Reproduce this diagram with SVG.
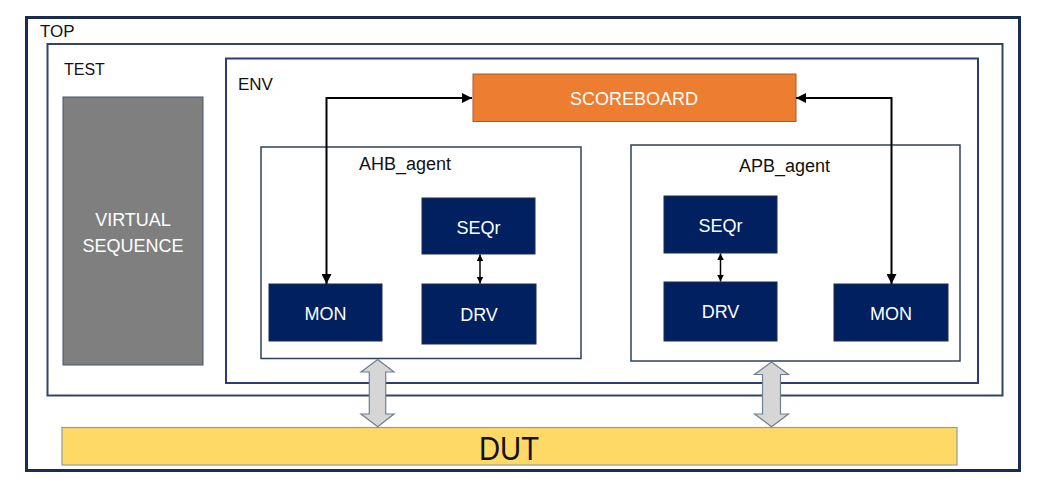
<svg xmlns="http://www.w3.org/2000/svg" width="1046" height="487" viewBox="0 0 1046 487">
<style>
.lbl{font-family:"Liberation Sans",Arial,sans-serif;fill:#111;}
.wt{font-family:"Liberation Sans",Arial,sans-serif;fill:#fff;text-anchor:middle;font-size:18px;}
.node{fill:#002060;stroke:#1a2a50;stroke-width:1;}
.cont{fill:none;}
.conn{fill:none;stroke:#000;stroke-width:2;}
.small{fill:none;stroke:#000;stroke-width:1.5;}
.blk{fill:#d6d6d6;stroke:#6f7f8f;stroke-width:1.2;}
</style>
<defs>
<marker id="ah" viewBox="0 0 10 10" refX="10" refY="5" markerWidth="5" markerHeight="5" orient="auto-start-reverse">
<path d="M0,0 L10,5 L0,10 z" fill="#000"/>
</marker>
<marker id="ahs" viewBox="0 0 10 10" refX="10" refY="5" markerWidth="4.5" markerHeight="4.5" orient="auto-start-reverse">
<path d="M0,0 L10,5 L0,10 z" fill="#000"/>
</marker>
</defs>
<rect width="1046" height="487" fill="#fff"/>

<g id="top">
<rect class="cont" x="26.5" y="17.5" width="993" height="453" stroke="#1a2c50" stroke-width="3"/>
<text class="lbl" x="40" y="37" font-size="17">TOP</text>
</g>
<g id="test">
<rect class="cont" x="47.5" y="44" width="955" height="351.5" stroke="#34455f" stroke-width="2"/>
<text class="lbl" x="64" y="75" font-size="16">TEST</text>
</g>
<g id="virtual_sequence">
<rect x="63" y="97" width="140" height="268" fill="#7f7f7f" stroke="#44546a" stroke-width="1"/>
<text class="wt" x="133" y="226" font-size="17">VIRTUAL</text>
<text class="wt" x="133" y="252" font-size="17">SEQUENCE</text>
</g>
<g id="env">
<rect class="cont" x="226" y="58.5" width="752" height="324.5" stroke="#2e3c70" stroke-width="2"/>
<text class="lbl" x="238" y="90" font-size="17">ENV</text>
</g>
<g id="scoreboard">
<rect x="473" y="74" width="323" height="47.5" fill="#ed7d31" stroke="#a85a25" stroke-width="1"/>
<text class="wt" x="634" y="105" font-size="16.5">SCOREBOARD</text>
</g>
<g id="ahb_agent">
<rect class="cont" x="261" y="147" width="320" height="211.5" stroke="#2f4060" stroke-width="1.5"/>
<text class="lbl" x="359" y="170" font-size="18">AHB_agent</text>
</g>
<g id="ahb_mon">
<rect class="node" x="269" y="284" width="113" height="57"/>
<text class="wt" x="325.5" y="320">MON</text>
</g>
<g id="ahb_seqr">
<rect class="node" x="422" y="198" width="113" height="56"/>
<text class="wt" x="478.5" y="234">SEQr</text>
</g>
<g id="ahb_drv">
<rect class="node" x="422" y="284" width="114" height="60"/>
<text class="wt" x="479" y="321">DRV</text>
</g>
<g id="apb_agent">
<rect class="cont" x="631" y="145" width="329" height="216" stroke="#2f4060" stroke-width="1.5"/>
<text class="lbl" x="739" y="172" font-size="18">APB_agent</text>
</g>
<g id="apb_seqr">
<rect class="node" x="664" y="196" width="113" height="57"/>
<text class="wt" x="720.5" y="232">SEQr</text>
</g>
<g id="apb_drv">
<rect class="node" x="664" y="282" width="113" height="59"/>
<text class="wt" x="720.5" y="318">DRV</text>
</g>
<g id="apb_mon">
<rect class="node" x="834" y="284" width="114" height="57"/>
<text class="wt" x="891" y="320">MON</text>
</g>
<g id="dut">
<rect x="62" y="427.5" width="895" height="37.5" fill="#ffd966" stroke="#9a9a9a" stroke-width="1.2"/>
<text class="lbl" x="509" y="460" font-size="34" text-anchor="middle" textLength="60" lengthAdjust="spacingAndGlyphs">DUT</text>
</g>

<g id="connectors">
<path class="conn" d="M326.5,284 V98 H472" marker-start="url(#ah)" marker-end="url(#ah)"/>
<path class="conn" d="M796,98 H891.5 V284" stroke-width="1.8" marker-start="url(#ah)" marker-end="url(#ah)"/>
<path class="small" d="M480,254.5 V283.5" marker-start="url(#ahs)" marker-end="url(#ahs)"/>
<path class="small" d="M720.5,253.5 V281.5" marker-start="url(#ahs)" marker-end="url(#ahs)"/>
<path class="blk" d="M377.7,359.5 L394,372 L385.7,372 L385.7,414 L394,414 L377.7,426.7 L361,414 L369.3,414 L369.3,372 L361,372 Z"/>
<path class="blk" d="M771.5,362 L788.5,374.5 L780.5,374.5 L780.5,414 L788.5,414 L771.5,426.7 L754.5,414 L762.5,414 L762.5,374.5 L754.5,374.5 Z"/>
</g>
</svg>
